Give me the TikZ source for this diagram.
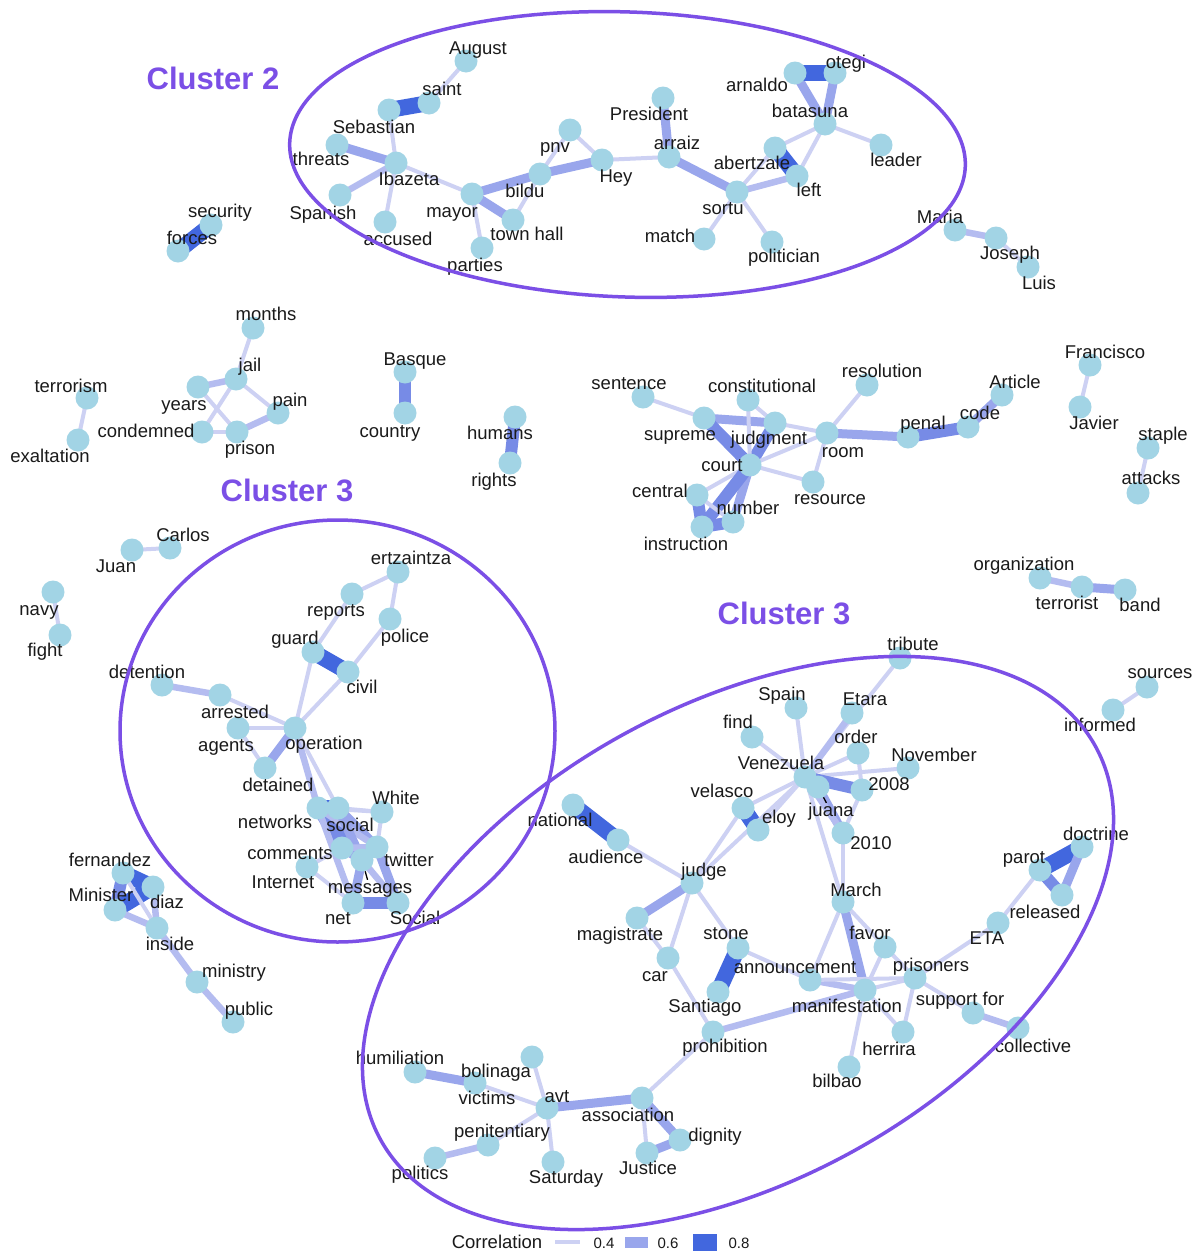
\documentclass[tikz,border=0pt]{standalone}
\usepackage{fontspec}
\setmainfont{Liberation Sans}
\definecolor{dotc}{HTML}{A2D4E5}
\definecolor{c4}{HTML}{CDD1F3}
\definecolor{c5}{HTML}{B4BCF0}
\definecolor{c6}{HTML}{99A6EC}
\definecolor{c7}{HTML}{778BE6}
\definecolor{c8}{HTML}{4267DE}
\definecolor{clc}{HTML}{7B4FE6}
\definecolor{txt}{HTML}{1A1A1A}
\pgfdeclarelayer{bgl}\pgfdeclarelayer{edges}\pgfdeclarelayer{labels}\pgfdeclarelayer{topl}
\pgfsetlayers{bgl,edges,main,labels,topl}
\newcommand\W[6]{%
  \node[dot] (#1) at (#2,#3) {};
  \begin{pgfonlayer}{labels}\node[lbl] (#1-l) at (#5,#6) {#4};\end{pgfonlayer}}
\newcommand\E[3]{\draw[#1] (#2.center) -- (#3.center);}
\tikzset{
  dot/.style={circle, fill=dotc, draw=none, inner sep=0pt, minimum size=23pt},
  lbl/.style={inner sep=0pt, text height=13pt, text depth=4pt, yshift=-1.5pt, text=txt, font=\fontsize{18.5}{22}\selectfont},
  e4/.style={line width=4pt, draw=c4},
  e5/.style={line width=6.5pt, draw=c5},
  e6/.style={line width=9pt, draw=c6},
  e7/.style={line width=12pt, draw=c7},
  e8/.style={line width=16pt, draw=c8},
  clus/.style={draw=clc, line width=3.5pt},
  cllabel/.style={inner sep=0pt, text=clc, font=\fontsize{31}{36}\selectfont\bfseries},
  leader/.style={draw=black, line width=1.3pt},
  legnum/.style={inner sep=0pt, text=txt, font=\fontsize{15}{17}\selectfont},
}
\begin{document}
\begin{tikzpicture}[x=1pt, y=-1pt]
\begin{pgfonlayer}{bgl}
\fill[white] (0,0) rectangle (1199,1253);
\end{pgfonlayer}
\useasboundingbox (0,0) rectangle (1199,1253);

% ---------- Cluster 2 (top) ----------
\W{august}{466}{61}{August}{478}{48}
\W{saint}{429}{103}{saint}{442}{89}
\W{sebastian}{389}{110}{Sebastian}{374}{127}
\W{threats}{337}{145}{threats}{321}{159}
\W{ibazeta}{396}{163}{Ibazeta}{409}{179}
\W{spanish}{340}{195}{Spanish}{323}{213}
\W{accused}{385}{222}{accused}{398}{239}
\W{mayor}{472}{194}{mayor}{452}{211}
\W{bildu}{540}{174}{bildu}{525}{191}
\W{pnv}{570}{130}{pnv}{555}{146}
\W{hey}{602}{160}{Hey}{616}{176}
\W{townhall}{513}{220}{town hall}{527}{234}
\W{parties}{482}{248}{parties}{475}{265}
\W{president}{663}{98}{President}{649}{114}
\W{arraiz}{669}{157}{arraiz}{677}{143}
\W{sortu}{737}{192}{sortu}{723}{208}
\W{match}{704}{239}{match}{670}{236}
\W{politician}{772}{242}{politician}{784}{256}
\W{abertzale}{775}{148}{abertzale}{752}{163}
\W{left}{797}{176}{left}{809}{190}
\W{arnaldo}{795}{73}{arnaldo}{757}{85}
\W{otegi}{835}{73}{otegi}{846}{62}
\W{batasuna}{825}{124}{batasuna}{810}{111}
\W{leader}{881}{145}{leader}{896}{160}
\W{maria}{955}{230}{Maria}{940}{217}
\W{joseph}{996}{238}{Joseph}{1010}{253}
\W{luis}{1028}{267}{Luis}{1039}{283}
\W{security}{211}{225}{security}{220}{211}
\W{forces}{178}{251}{forces}{192}{238}

% ---------- middle ----------
\W{months}{253}{328}{months}{266}{314}
\W{jail}{236}{379}{jail}{250}{365}
\W{years}{198}{387}{years}{184}{404}
\W{pain}{278}{413}{pain}{290}{400}
\W{condemned}{202}{432}{condemned}{146}{431}
\W{prison}{237}{432}{prison}{250}{448}
\W{terrorism}{87}{398}{terrorism}{71}{386}
\W{exaltation}{78}{440}{exaltation}{50}{456}
\W{basque}{405}{372}{Basque}{415}{359}
\W{country}{405}{413}{country}{390}{431}
\W{humans}{515}{417}{humans}{500}{433}
\W{rights}{510}{463}{rights}{494}{480}
\W{sentence}{643}{397}{sentence}{629}{383}
\W{constitutional}{748}{400}{constitutional}{762}{386}
\W{supreme}{704}{418}{supreme}{680}{434}
\W{judgment}{775}{423}{judgment}{769}{438}
\W{court}{750}{465}{court}{722}{465}
\W{central}{697}{495}{central}{660}{491}
\W{number}{733}{522}{number}{748}{508}
\W{instruction}{702}{527}{instruction}{686}{544}
\W{resolution}{867}{385}{resolution}{882}{371}
\W{room}{827}{433}{room}{843}{451}
\W{resource}{813}{482}{resource}{830}{498}
\W{penal}{908}{437}{penal}{923}{423}
\W{code}{968}{427}{code}{980}{413}
\W{article}{1002}{395}{Article}{1015}{382}
\W{francisco}{1090}{365}{Francisco}{1105}{352}
\W{javier}{1080}{407}{Javier}{1094}{423}
\W{staple}{1148}{448}{staple}{1163}{434}
\W{attacks}{1138}{493}{attacks}{1151}{478}
\W{organization}{1040}{578}{organization}{1024}{564}
\W{terrorist}{1082}{587}{terrorist}{1067}{603}
\W{band}{1125}{590}{band}{1140}{605}
\W{sources}{1147}{687}{sources}{1160}{672}
\W{informed}{1113}{710}{informed}{1100}{725}
\W{carlos}{170}{548}{Carlos}{183}{535}
\W{juan}{132}{550}{Juan}{116}{566}
\W{navy}{53}{592}{navy}{39}{609}
\W{fight}{60}{635}{fight}{45}{650}

% ---------- left cluster ----------
\W{ertzaintza}{398}{572}{ertzaintza}{411}{558}
\W{reports}{352}{594}{reports}{336}{610}
\W{police}{390}{619}{police}{405}{636}
\W{guard}{313}{652}{guard}{295}{638}
\W{civil}{348}{672}{civil}{362}{687}
\W{detention}{162}{685}{detention}{147}{672}
\W{arrested}{220}{695}{arrested}{235}{712}
\W{agents}{238}{728}{agents}{226}{745}
\W{operation}{295}{728}{operation}{324}{743}
\W{detained}{265}{768}{detained}{278}{785}
\W{networks}{318}{808}{networks}{275}{822}
\W{social}{338}{808}{social}{350}{825}
\W{white}{382}{812}{White}{396}{798}
\W{comments}{342}{848}{comments}{290}{853}
\W{twitter}{377}{847}{twitter}{409}{860}
\W{internet}{307}{867}{Internet}{283}{882}
\W{messages}{362}{860}{messages}{370}{887}
\W{net}{353}{903}{net}{338}{918}
\W{socialb}{398}{903}{Social}{415}{918}
\W{fernandez}{123}{873}{fernandez}{110}{860}
\W{diaz}{153}{887}{diaz}{167}{902}
\W{minister}{115}{910}{Minister}{101}{895}
\W{inside}{157}{928}{inside}{170}{944}
\W{ministry}{197}{982}{ministry}{234}{971}
\W{public}{233}{1022}{public}{249}{1009}

% ---------- right cluster ----------
\W{tribute}{900}{658}{tribute}{913}{644}
\W{spain}{796}{708}{Spain}{782}{694}
\W{etara}{852}{713}{Etara}{865}{699}
\W{find}{752}{737}{find}{738}{722}
\W{order}{858}{753}{order}{856}{737}
\W{november}{908}{768}{November}{934}{755}
\W{venezuela}{805}{777}{Venezuela}{781}{763}
\W{juana}{818}{787}{juana}{831}{810}
\W{y2008}{862}{790}{2008}{889}{784}
\W{y2010}{843}{833}{2010}{871}{843}
\W{velasco}{743}{808}{velasco}{722}{791}
\W{eloy}{758}{830}{eloy}{779}{817}
\W{national}{573}{805}{national}{560}{820}
\W{audience}{618}{840}{audience}{606}{857}
\W{judge}{692}{883}{judge}{704}{870}
\W{magistrate}{637}{918}{magistrate}{620}{934}
\W{stone}{738}{948}{stone}{726}{933}
\W{car}{668}{958}{car}{655}{975}
\W{santiago}{718}{992}{Santiago}{705}{1006}
\W{announcement}{810}{980}{announcement}{795}{967}
\W{march}{843}{902}{March}{856}{890}
\W{favor}{885}{947}{favor}{870}{933}
\W{manifestation}{865}{990}{manifestation}{847}{1006}
\W{prisoners}{915}{978}{prisoners}{931}{965}
\W{supportfor}{973}{1013}{support for}{960}{999}
\W{collective}{1018}{1028}{collective}{1033}{1046}
\W{herrira}{903}{1032}{herrira}{889}{1049}
\W{bilbao}{849}{1067}{bilbao}{837}{1081}
\W{prohibition}{713}{1032}{prohibition}{725}{1046}
\W{eta}{998}{923}{ETA}{987}{938}
\W{parot}{1040}{870}{parot}{1024}{857}
\W{doctrine}{1082}{847}{doctrine}{1096}{834}
\W{released}{1062}{895}{released}{1045}{912}
\W{humiliation}{415}{1072}{humiliation}{400}{1058}
\W{victims}{475}{1083}{victims}{487}{1098}
\W{bolinaga}{532}{1057}{bolinaga}{496}{1071}
\W{avt}{547}{1108}{avt}{557}{1096}
\W{association}{642}{1098}{association}{628}{1115}
\W{dignity}{680}{1140}{dignity}{715}{1135}
\W{justice}{647}{1153}{Justice}{648}{1168}
\W{penitentiary}{488}{1145}{penitentiary}{502}{1131}
\W{politics}{435}{1158}{politics}{420}{1173}
\W{saturday}{553}{1162}{Saturday}{566}{1177}

% ---------- edges ----------
\begin{pgfonlayer}{edges}
\E{e4}{august}{saint}
\E{e8}{saint}{sebastian}
\E{e4}{sebastian}{ibazeta}
\E{e6}{threats}{ibazeta}
\E{e5}{spanish}{ibazeta}
\E{e4}{accused}{ibazeta}
\E{e4}{ibazeta}{mayor}
\E{e6}{mayor}{bildu}
\E{e6}{mayor}{townhall}
\E{e4}{mayor}{parties}
\E{e4}{bildu}{townhall}
\E{e4}{bildu}{pnv}
\E{e6}{bildu}{hey}
\E{e4}{pnv}{hey}
\E{e4}{hey}{arraiz}
\E{e6}{president}{arraiz}
\E{e6}{arraiz}{sortu}
\E{e4}{sortu}{match}
\E{e4}{sortu}{politician}
\E{e4}{sortu}{abertzale}
\E{e5}{sortu}{left}
\E{e8}{abertzale}{left}
\E{e4}{abertzale}{batasuna}
\E{e4}{left}{batasuna}
\E{e6}{batasuna}{arnaldo}
\E{e6}{batasuna}{otegi}
\E{e8}{arnaldo}{otegi}
\E{e4}{batasuna}{leader}
\E{e5}{maria}{joseph}
\E{e4}{joseph}{luis}
\E{e8}{security}{forces}
\E{e4}{months}{jail}
\E{e5}{jail}{years}
\E{e4}{jail}{pain}
\E{e4}{jail}{condemned}
\E{e4}{years}{prison}
\E{e4}{condemned}{prison}
\E{e5}{pain}{prison}
\E{e4}{terrorism}{exaltation}
\E{e7}{basque}{country}
\E{e7}{humans}{rights}
\E{e4}{sentence}{supreme}
\E{e6}{supreme}{judgment}
\E{e7}{supreme}{court}
\E{e7}{judgment}{court}
\E{e4}{constitutional}{judgment}
\E{e4}{constitutional}{court}
\E{e4}{judgment}{room}
\E{e4}{court}{room}
\E{e4}{court}{resource}
\E{e4}{court}{central}
\E{e6}{court}{number}
\E{e7}{court}{instruction}
\E{e7}{central}{instruction}
\E{e4}{central}{number}
\E{e7}{instruction}{number}
\E{e4}{room}{resolution}
\E{e4}{room}{resource}
\E{e6}{room}{penal}
\E{e7}{penal}{code}
\E{e6}{code}{article}
\E{e4}{francisco}{javier}
\E{e4}{staple}{attacks}
\E{e5}{organization}{terrorist}
\E{e6}{terrorist}{band}
\E{e4}{sources}{informed}
\E{e4}{juan}{carlos}
\E{e4}{navy}{fight}
\E{e4}{ertzaintza}{reports}
\E{e4}{ertzaintza}{police}
\E{e4}{reports}{guard}
\E{e8}{guard}{civil}
\E{e4}{guard}{operation}
\E{e4}{civil}{operation}
\E{e4}{civil}{police}
\E{e5}{detention}{arrested}
\E{e4}{arrested}{operation}
\E{e4}{agents}{operation}
\E{e4}{agents}{detained}
\E{e6}{detained}{operation}
\E{e5}{operation}{networks}
\E{e4}{operation}{social}
\E{e8}{networks}{social}
\E{e7}{networks}{comments}
\E{e7}{social}{comments}
\E{e6}{social}{twitter}
\E{e5}{networks}{twitter}
\E{e6}{social}{messages}
\E{e6}{comments}{messages}
\E{e5}{comments}{twitter}
\E{e6}{twitter}{socialb}
\E{e5}{messages}{socialb}
\E{e7}{net}{socialb}
\E{e6}{messages}{net}
\E{e5}{networks}{net}
\E{e4}{comments}{internet}
\E{e4}{internet}{net}
\E{e4}{social}{white}
\E{e4}{networks}{white}
\E{e4}{white}{twitter}
\E{e8}{fernandez}{diaz}
\E{e7}{fernandez}{minister}
\E{e8}{minister}{diaz}
\E{e5}{minister}{inside}
\E{e5}{diaz}{inside}
\E{e4}{fernandez}{inside}
\E{e5}{inside}{ministry}
\E{e5}{ministry}{public}
\E{e4}{tribute}{venezuela}
\E{e5}{etara}{venezuela}
\E{e4}{spain}{venezuela}
\E{e4}{find}{venezuela}
\E{e4}{order}{venezuela}
\E{e4}{order}{y2008}
\E{e4}{november}{venezuela}
\E{e7}{venezuela}{y2008}
\E{e6}{juana}{y2010}
\E{e5}{venezuela}{y2010}
\E{e4}{y2008}{y2010}
\E{e4}{venezuela}{march}
\E{e4}{y2010}{march}
\E{e4}{velasco}{venezuela}
\E{e4}{eloy}{venezuela}
\E{e8}{velasco}{eloy}
\E{e4}{judge}{velasco}
\E{e4}{judge}{venezuela}
\E{e4}{audience}{judge}
\E{e8}{national}{audience}
\E{e6}{judge}{magistrate}
\E{e4}{judge}{car}
\E{e4}{magistrate}{car}
\E{e4}{judge}{stone}
\E{e4}{car}{prohibition}
\E{e8}{stone}{santiago}
\E{e4}{stone}{announcement}
\E{e6}{march}{manifestation}
\E{e4}{march}{announcement}
\E{e4}{march}{favor}
\E{e5}{announcement}{manifestation}
\E{e4}{announcement}{prisoners}
\E{e4}{manifestation}{prisoners}
\E{e4}{manifestation}{favor}
\E{e4}{manifestation}{herrira}
\E{e4}{manifestation}{bilbao}
\E{e4}{prisoners}{herrira}
\E{e4}{prisoners}{favor}
\E{e4}{prisoners}{supportfor}
\E{e5}{supportfor}{collective}
\E{e4}{prisoners}{eta}
\E{e4}{eta}{parot}
\E{e8}{parot}{doctrine}
\E{e7}{parot}{released}
\E{e6}{doctrine}{released}
\E{e5}{prohibition}{manifestation}
\E{e4}{prohibition}{association}
\E{e6}{humiliation}{victims}
\E{e4}{victims}{avt}
\E{e4}{bolinaga}{avt}
\E{e6}{avt}{association}
\E{e6}{association}{dignity}
\E{e6}{dignity}{justice}
\E{e4}{association}{justice}
\E{e4}{avt}{penitentiary}
\E{e5}{politics}{penitentiary}
\E{e4}{avt}{saturday}
\end{pgfonlayer}

% leader lines of labels
\begin{pgfonlayer}{labels}
\draw[leader] (juana) -- (juana-l);
\draw[leader] (messages) -- (messages-l);
\end{pgfonlayer}

% ---------- cluster outlines and titles ----------
\begin{pgfonlayer}{topl}
\draw[clus] (627.5,154.5) ellipse [x radius=338pt, y radius=142.5pt, rotate=-2];
\draw[clus] (337.5,731) ellipse [x radius=217.5pt, y radius=211pt];
\draw[clus] (738,943) ellipse [x radius=408pt, y radius=238pt, rotate=28.8];
\node[cllabel] (c2) at (213,78) {Cluster 2};
\node[cllabel] (c3a) at (287,490) {Cluster 3};
\node[cllabel] (c3b) at (784,613) {Cluster 3};
\end{pgfonlayer}

% ---------- legend ----------
\node[lbl] (legt) at (497,1242) {Correlation};
\coordinate (k4a) at (555,1242); \coordinate (k4b) at (580,1242);
\coordinate (k6a) at (625,1242); \coordinate (k6b) at (648,1242);
\coordinate (k8a) at (693,1242); \coordinate (k8b) at (717,1242);
\draw[e4] (k4a) -- (k4b);
\draw[line width=11pt, draw=c6] (k6a) -- (k6b);
\draw[line width=17pt, draw=c8] (k8a) -- (k8b);
\node[legnum] (n4) at (604,1243) {0.4};
\node[legnum] (n6) at (668,1243) {0.6};
\node[legnum] (n8) at (739,1243) {0.8};
\end{tikzpicture}
\end{document}
